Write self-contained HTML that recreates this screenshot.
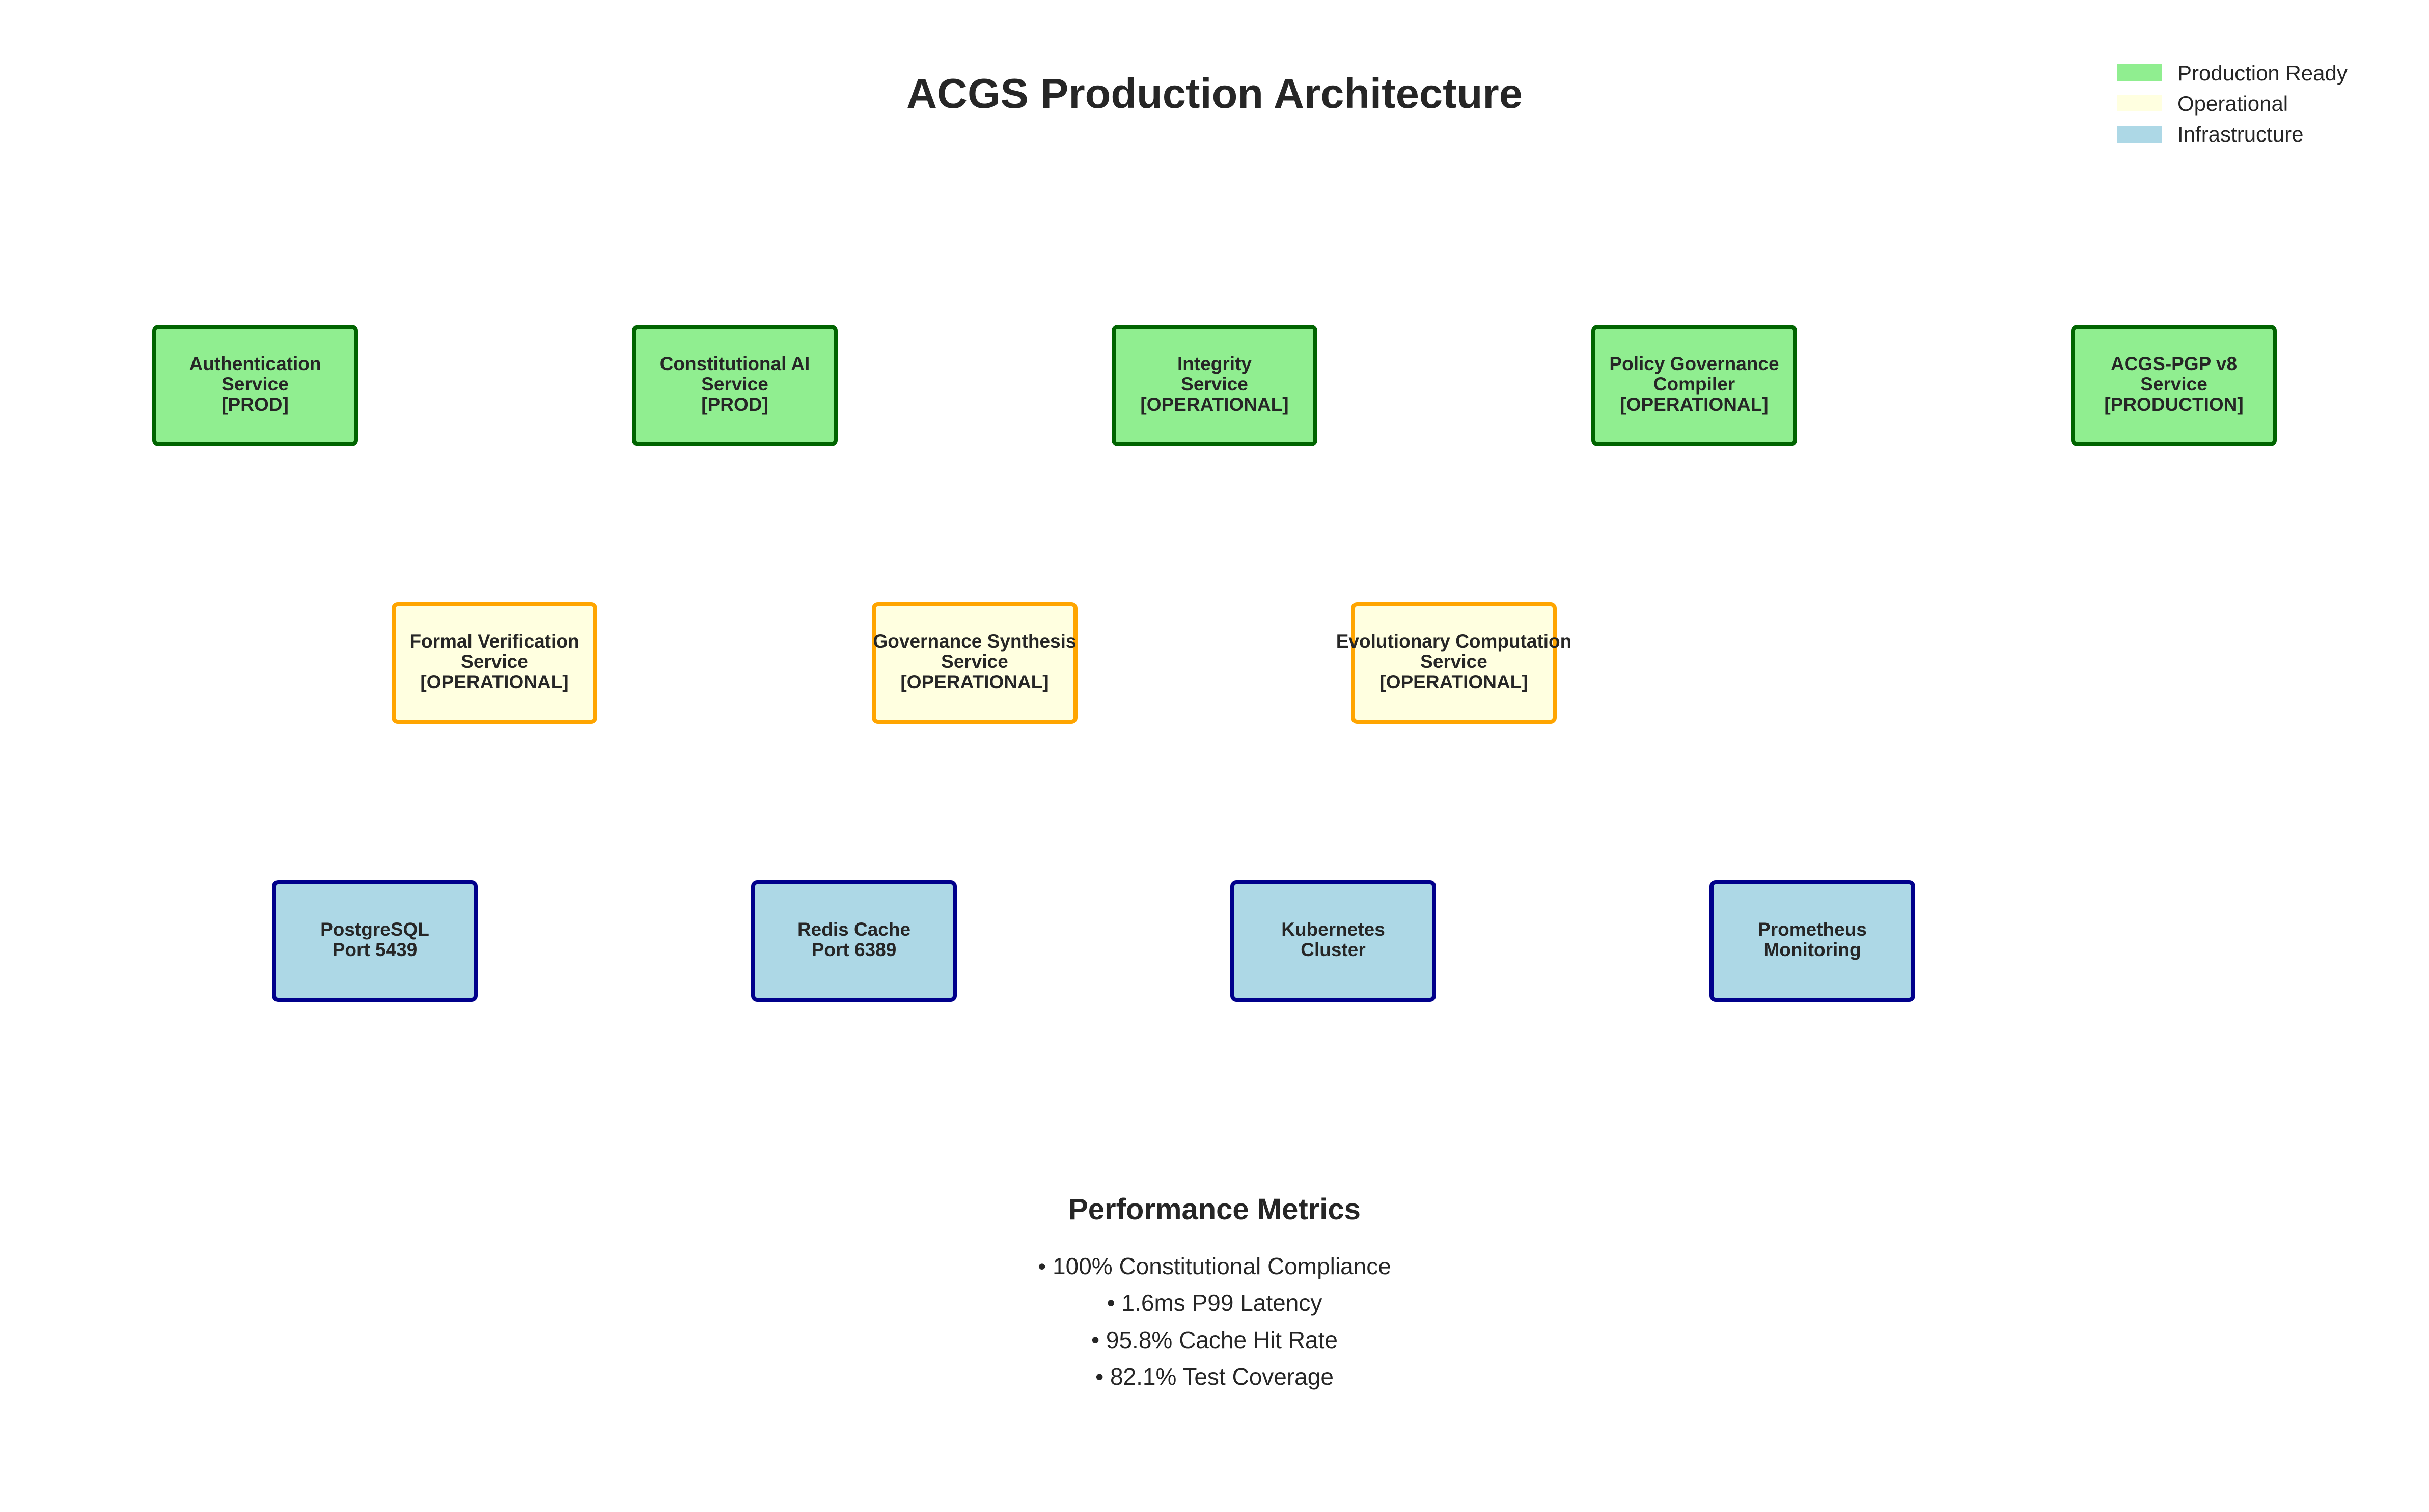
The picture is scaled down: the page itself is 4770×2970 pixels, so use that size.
<!DOCTYPE html>
<html><head><meta charset="utf-8"><style>
html,body{margin:0;padding:0;background:#fff;}
svg{display:block;}
text{font-family:"Liberation Sans",Arial,sans-serif;fill:#262626;}
.b{font-weight:bold;font-size:37px;text-anchor:middle;}
</style></head><body>
<svg width="4770" height="2970" viewBox="0 0 4770 2970" xmlns="http://www.w3.org/2000/svg">
<rect width="4770" height="2970" fill="#fff"/>
<text x="2385" y="212" text-anchor="middle" font-size="83" font-weight="bold">ACGS Production Architecture</text>

<rect x="4158" y="126" width="88" height="33" fill="#90ee90"/>
<rect x="4158" y="186" width="88" height="33" fill="#ffffe0"/>
<rect x="4158" y="247" width="88" height="33" fill="#add8e6"/>
<text x="4276" y="158" font-size="42">Production Ready</text>
<text x="4276" y="218" font-size="42">Operational</text>
<text x="4276" y="278" font-size="42">Infrastructure</text>

<g fill="#90ee90" stroke="#006400" stroke-width="8">
<rect x="303" y="642" width="396" height="231" rx="8"/>
<rect x="1245" y="642" width="396" height="231" rx="8"/>
<rect x="2187" y="642" width="396" height="231" rx="8"/>
<rect x="3129" y="642" width="396" height="231" rx="8"/>
<rect x="4071" y="642" width="396" height="231" rx="8"/>
</g>
<text class="b" x="501" y="727">Authentication</text><text class="b" x="501" y="767">Service</text><text class="b" x="501" y="807">[PROD]</text>
<text class="b" x="1443" y="727">Constitutional AI</text><text class="b" x="1443" y="767">Service</text><text class="b" x="1443" y="807">[PROD]</text>
<text class="b" x="2385" y="727">Integrity</text><text class="b" x="2385" y="767">Service</text><text class="b" x="2385" y="807">[OPERATIONAL]</text>
<text class="b" x="3327" y="727">Policy Governance</text><text class="b" x="3327" y="767">Compiler</text><text class="b" x="3327" y="807">[OPERATIONAL]</text>
<text class="b" x="4269" y="727">ACGS-PGP v8</text><text class="b" x="4269" y="767">Service</text><text class="b" x="4269" y="807">[PRODUCTION]</text>

<g fill="#ffffe0" stroke="#ffa500" stroke-width="8">
<rect x="773" y="1187" width="396" height="231" rx="8"/>
<rect x="1716" y="1187" width="396" height="231" rx="8"/>
<rect x="2657" y="1187" width="396" height="231" rx="8"/>
</g>
<text class="b" x="971" y="1272">Formal Verification</text><text class="b" x="971" y="1312">Service</text><text class="b" x="971" y="1352">[OPERATIONAL]</text>
<text class="b" x="1914" y="1272">Governance Synthesis</text><text class="b" x="1914" y="1312">Service</text><text class="b" x="1914" y="1352">[OPERATIONAL]</text>
<text class="b" x="2855" y="1272">Evolutionary Computation</text><text class="b" x="2855" y="1312">Service</text><text class="b" x="2855" y="1352">[OPERATIONAL]</text>

<g fill="#add8e6" stroke="#00008b" stroke-width="8">
<rect x="538" y="1733" width="396" height="231" rx="8"/>
<rect x="1479" y="1733" width="396" height="231" rx="8"/>
<rect x="2420" y="1733" width="396" height="231" rx="8"/>
<rect x="3361" y="1733" width="396" height="231" rx="8"/>
</g>
<text class="b" x="736" y="1838">PostgreSQL</text><text class="b" x="736" y="1878">Port 5439</text>
<text class="b" x="1677" y="1838">Redis Cache</text><text class="b" x="1677" y="1878">Port 6389</text>
<text class="b" x="2618" y="1838">Kubernetes</text><text class="b" x="2618" y="1878">Cluster</text>
<text class="b" x="3559" y="1838">Prometheus</text><text class="b" x="3559" y="1878">Monitoring</text>

<text x="2385" y="2395" text-anchor="middle" font-size="58" font-weight="bold">Performance Metrics</text>
<g font-size="46" text-anchor="middle">
<text x="2385" y="2503">• 100% Constitutional Compliance</text>
<text x="2385" y="2575">• 1.6ms P99 Latency</text>
<text x="2385" y="2648">• 95.8% Cache Hit Rate</text>
<text x="2385" y="2720">• 82.1% Test Coverage</text>
</g>
</svg>
</body></html>
